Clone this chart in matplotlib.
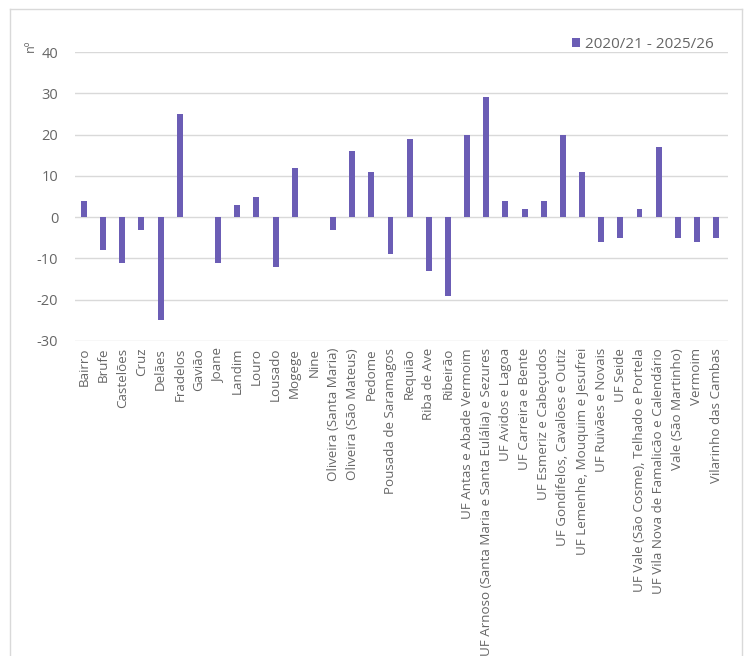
import matplotlib
matplotlib.use("Agg")
import matplotlib.pyplot as plt
from matplotlib.lines import Line2D

categories = [
    "Bairro", "Brufe", "Castelões", "Cruz", "Delães", "Fradelos", "Gavião",
    "Joane", "Landim", "Louro", "Lousado", "Mogege", "Nine",
    "Oliveira (Santa Maria)", "Oliveira (São Mateus)", "Pedome",
    "Pousada de Saramagos", "Requião", "Riba de Ave", "Ribeirão",
    "UF Antas e Abade Vermoim",
    "UF Arnoso (Santa Maria e Santa Eulália) e Sezures",
    "UF Avidos e Lagoa", "UF Carreira e Bente", "UF Esmeriz e Cabeçudos",
    "UF Gondifelos, Cavalões e Outiz", "UF Lemenhe, Mouquim e Jesufrei",
    "UF Ruivães e Novais", "UF Seide",
    "UF Vale (São Cosme), Telhado e Portela",
    "UF Vila Nova de Famalicão e Calendário", "Vale (São Martinho)",
    "Vermoim", "Vilarinho das Cambas",
]
values = [4, -8, -11, -3, -25, 25, 0, -11, 3, 5, -12, 12, 0, -3, 16, 11,
          -9, 19, -13, -19, 20, 29, 4, 2, 4, 20, 11, -6, -5, 2, 17, -5, -6, -5]
series_label = "2020/21 - 2025/26"
y_ticks = [-30, -20, -10, 0, 10, 20, 30, 40]

plt.rcParams['font.family'] = ['Open Sans', 'DejaVu Sans']
text_color = "#666666"
bar_color = "#6B5DB5"
grid_color = "#D9D9D9"

fig = plt.figure(figsize=(7.48, 6.56), dpi=100)
ax = fig.add_axes([75/748, 1-341/656, (728-75)/748, (341-52)/656])

x = list(range(len(categories)))
ax.bar(x, values, width=0.31, color=bar_color, zorder=3, label=series_label)

ax.set_ylim(-30, 40)
ax.set_xlim(-0.47, 33.62)
ax.set_yticks(y_ticks)
ax.set_yticklabels([str(v) for v in y_ticks], color=text_color, fontsize=10.5)
ax.set_xticks(x)
ax.set_xticklabels(categories, rotation=90, color=text_color, fontsize=9.6)
ax.tick_params(axis='x', length=0, pad=5)
ax.tick_params(axis='y', length=0, pad=12)
ax.grid(axis='y', color=grid_color, linewidth=1.0, zorder=0)
for s in ax.spines.values():
    s.set_visible(False)

fig.text(30/748, 1-46/656, "nº", rotation=90, color=text_color, fontsize=9,
         ha='center', va='center')

leg = ax.legend(loc='upper right', bbox_to_anchor=(724/748, 1-26/656),
                bbox_transform=fig.transFigure, frameon=False, fontsize=11,
                handlelength=0.55, handleheight=0.55, handletextpad=0.3,
                borderpad=0.2)
for t in leg.get_texts():
    t.set_color(text_color)

bc = "#D9D9D9"
fig.add_artist(Line2D([10/748, 10/748], [0, 1-9/656], transform=fig.transFigure, color=bc, lw=1))
fig.add_artist(Line2D([10/748, 742/748], [1-9/656, 1-9/656], transform=fig.transFigure, color=bc, lw=1))
fig.add_artist(Line2D([742/748, 742/748], [0, 1-9/656], transform=fig.transFigure, color=bc, lw=1))

fig.savefig("out.png", dpi=100, facecolor="white")
